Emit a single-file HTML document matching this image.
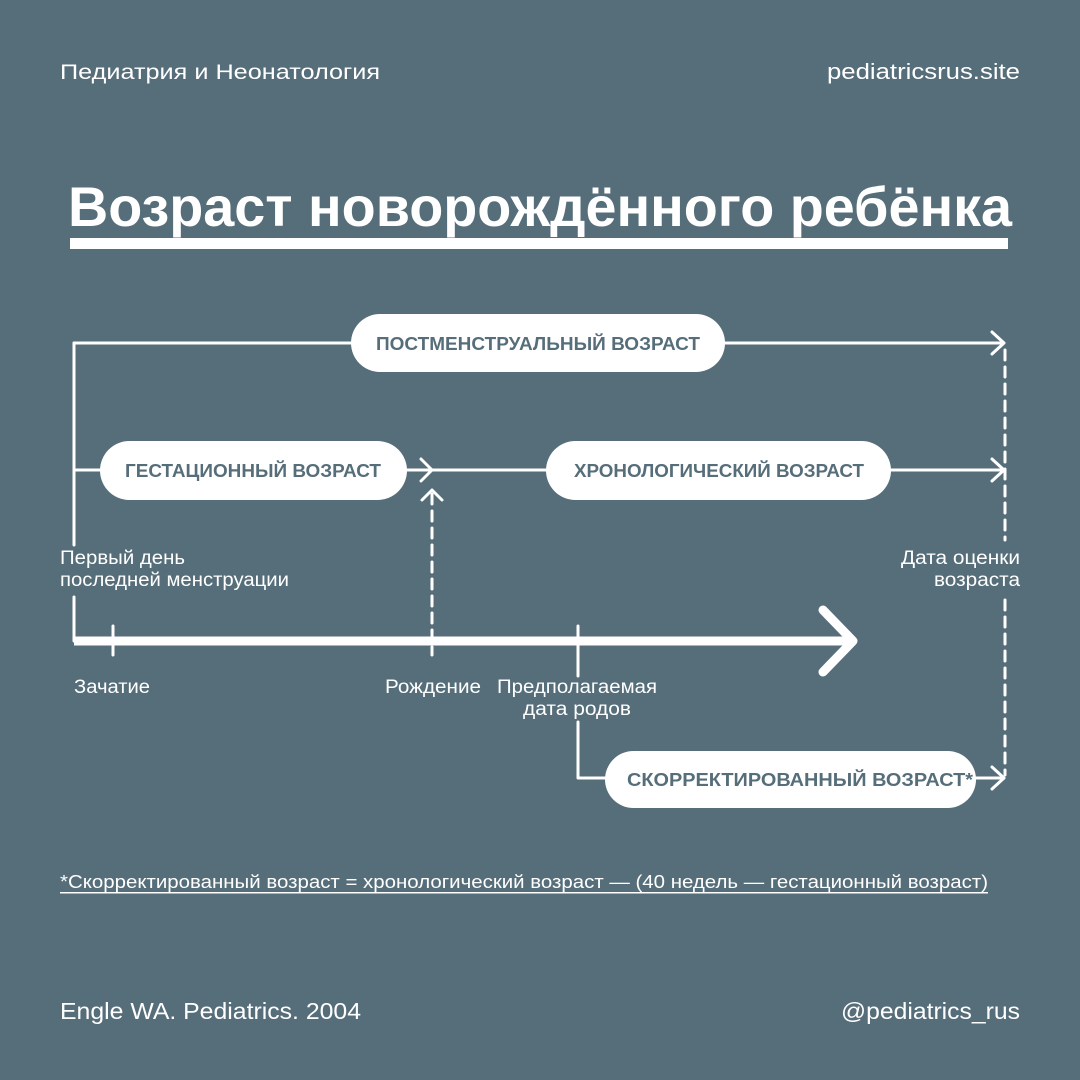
<!DOCTYPE html>
<html><head><meta charset="utf-8"><style>
html,body{margin:0;padding:0;background:#566e7a;}
svg{display:block}
text{font-family:"Liberation Sans","Noto Sans CJK SC",sans-serif;}
</style></head><body>
<svg width="1080" height="1080" viewBox="0 0 1080 1080" xmlns="http://www.w3.org/2000/svg">
<rect width="1080" height="1080" fill="#566e7a"/>
<g fill="#fff">
<text x="60" y="79" font-size="21" textLength="320" lengthAdjust="spacingAndGlyphs">Педиатрия и Неонатология</text>
<text x="827" y="79" font-size="22" textLength="193" lengthAdjust="spacingAndGlyphs">pediatricsrus.site</text>
<text x="68" y="226" font-size="56" font-weight="bold" textLength="944" lengthAdjust="spacingAndGlyphs">Возраст новорождённого ребёнка</text>
<rect x="70" y="238" width="938" height="11"/>
</g>
<g stroke="#fff" stroke-width="3" fill="none" stroke-linecap="round" stroke-linejoin="round">
<path d="M74 343 V545 M74 597 V641"/>
<path d="M74 343 H1004 M992 332 L1004 343 L992 354"/>
<path d="M74 470 H1004 M992 459 L1004 470 L992 481"/>
<path d="M421 459 L432 470 L421 481"/>
<path d="M422 500 L432 490 L442 500"/>
<path d="M432 494 V655" stroke-dasharray="10 7"/>
<path d="M1005 350 V540 M1005 600 V775" stroke-dasharray="10 7"/>
<path d="M113 626 V655"/>
<path d="M578 626 V676 M578 722 V778 H620"/>
<path d="M970 778 H1004 M992 767 L1004 778 L992 789"/>
<path d="M74 641 H852" stroke-width="9" stroke-linecap="butt"/>
<path d="M823 610 L853 641 L823 672" stroke-width="9"/>
</g>
<g fill="#fff">
<rect x="351" y="314" width="374" height="58" rx="29"/>
<rect x="100" y="441" width="307" height="59" rx="29.5"/>
<rect x="546" y="441" width="345" height="59" rx="29.5"/>
<rect x="605" y="751" width="371" height="57" rx="28.5"/>
</g>
<g fill="#566e7a" font-size="18" font-weight="bold" lengthAdjust="spacingAndGlyphs">
<text x="376" y="350" textLength="324" lengthAdjust="spacingAndGlyphs">ПОСТМЕНСТРУАЛЬНЫЙ ВОЗРАСТ</text>
<text x="125" y="477" textLength="256" lengthAdjust="spacingAndGlyphs">ГЕСТАЦИОННЫЙ ВОЗРАСТ</text>
<text x="574" y="477" textLength="290" lengthAdjust="spacingAndGlyphs">ХРОНОЛОГИЧЕСКИЙ ВОЗРАСТ</text>
<text x="627" y="786" textLength="346" lengthAdjust="spacingAndGlyphs">СКОРРЕКТИРОВАННЫЙ ВОЗРАСТ*</text>
</g>
<g fill="#fff" font-size="19">
<text x="60" y="564" textLength="125" lengthAdjust="spacingAndGlyphs">Первый день</text>
<text x="60" y="586" textLength="229" lengthAdjust="spacingAndGlyphs">последней менструации</text>
<text x="901" y="564" textLength="119" lengthAdjust="spacingAndGlyphs">Дата оценки</text>
<text x="934" y="586" textLength="86" lengthAdjust="spacingAndGlyphs">возраста</text>
<text x="74" y="693" textLength="76" lengthAdjust="spacingAndGlyphs">Зачатие</text>
<text x="385" y="693" textLength="96" lengthAdjust="spacingAndGlyphs">Рождение</text>
<text x="497" y="693" textLength="160" lengthAdjust="spacingAndGlyphs">Предполагаемая</text>
<text x="523" y="715" textLength="108" lengthAdjust="spacingAndGlyphs">дата родов</text>
<text x="60" y="888" font-size="18" textLength="928" lengthAdjust="spacingAndGlyphs">*Скорректированный возраст = хронологический возраст — (40 недель — гестационный возраст)</text>
<rect x="60" y="892" width="928" height="1.5"/>
<text x="60" y="1019" font-size="23" textLength="301" lengthAdjust="spacingAndGlyphs">Engle WA. Pediatrics. 2004</text>
<text x="841" y="1019" font-size="23" textLength="179" lengthAdjust="spacingAndGlyphs">@pediatrics_rus</text>
</g>
</svg>
</body></html>
